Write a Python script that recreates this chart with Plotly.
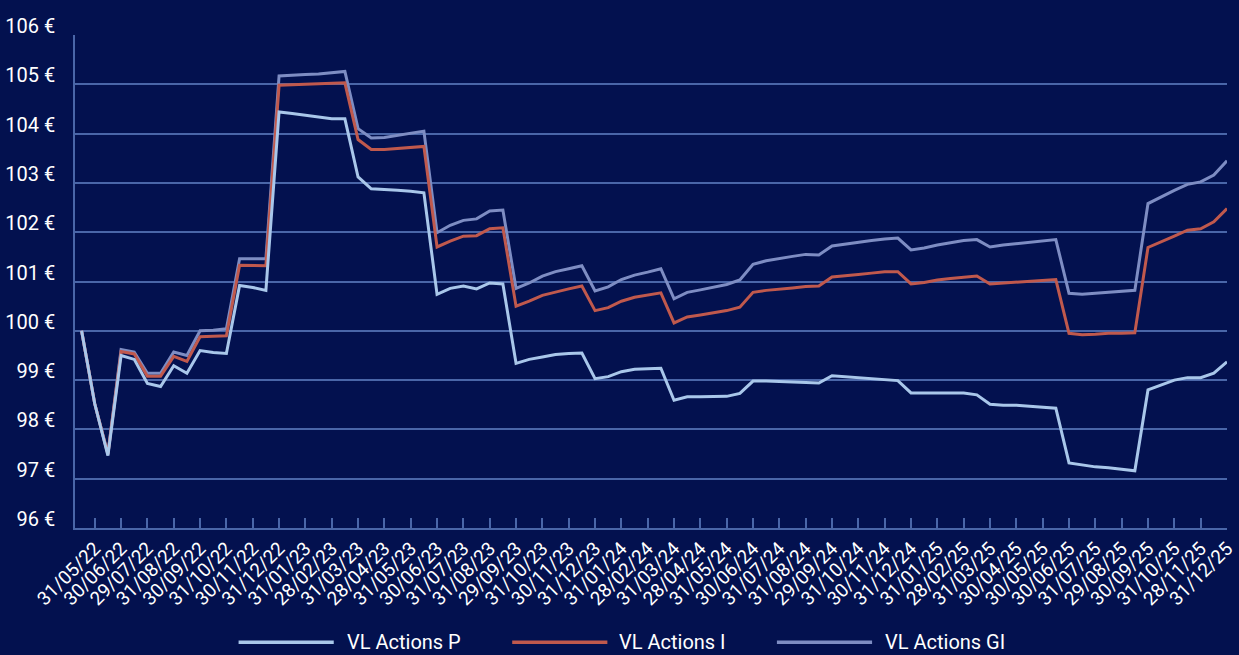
import plotly.graph_objects as go

# Month-end labels (shown on every second point)
month_labels = [
    "31/05/22", "30/06/22", "29/07/22", "31/08/22", "30/09/22", "31/10/22", "30/11/22", "31/12/22",
    "31/01/23", "28/02/23", "31/03/23", "28/04/23", "31/05/23", "30/06/23", "31/07/23", "31/08/23",
    "29/09/23", "31/10/23", "30/11/23", "31/12/23",
    "31/01/24", "28/02/24", "31/03/24", "28/04/24", "31/05/24", "30/06/24", "31/07/24", "31/08/24",
    "29/09/24", "31/10/24", "30/11/24", "31/12/24",
    "31/01/25", "28/02/25", "31/03/25", "30/04/25", "30/05/25", "30/06/25", "31/07/25", "29/08/25",
    "30/09/25", "31/10/25", "28/11/25", "31/12/25",
]

vl_actions_p = [
    100.00, 98.52, 97.47, 99.50, 99.42, 98.93, 98.87, 99.29, 99.14, 99.60,
    99.56, 99.54, 100.92, 100.88, 100.82, 104.44, 104.41, 104.37, 104.34, 104.30,
    104.30, 103.12, 102.88, 102.87, 102.85, 102.83, 102.80, 100.74, 100.86, 100.91,
    100.85, 100.97, 100.95, 99.34, 99.42, 99.47, 99.52, 99.54, 99.55, 99.03,
    99.07, 99.17, 99.22, 99.23, 99.24, 98.59, 98.66, 98.66, 98.67, 98.67,
    98.73, 98.98, 98.98, 98.97, 98.97, 98.96, 98.94, 99.09, 99.07, 99.05,
    99.03, 99.01, 98.99, 98.74, 98.74, 98.74, 98.74, 98.74, 98.70, 98.51,
    98.49, 98.49, 98.47, 98.45, 98.43, 97.32, 97.28, 97.24, 97.22, 97.19,
    97.16, 98.80, 98.90, 99.00, 99.05, 99.05, 99.14, 99.37,
]

vl_actions_i = [
    100.00, 98.52, 97.50, 99.58, 99.53, 99.08, 99.08, 99.48, 99.38, 99.88,
    99.89, 99.90, 101.33, 101.33, 101.32, 104.98, 104.99, 105.00, 105.01, 105.02,
    105.03, 103.88, 103.68, 103.68, 103.70, 103.72, 103.74, 101.70, 101.82, 101.92,
    101.93, 102.07, 102.09, 100.50, 100.60, 100.72, 100.79, 100.85, 100.91, 100.41,
    100.47, 100.60, 100.68, 100.72, 100.77, 100.16, 100.28, 100.32, 100.37, 100.41,
    100.48, 100.78, 100.82, 100.84, 100.87, 100.90, 100.91, 101.09, 101.11, 101.14,
    101.17, 101.20, 101.20, 100.95, 100.98, 101.03, 101.06, 101.09, 101.11, 100.95,
    100.97, 100.99, 101.00, 101.03, 101.04, 99.95, 99.92, 99.93, 99.95, 99.95,
    99.96, 101.69, 101.80, 101.92, 102.04, 102.07, 102.21, 102.48,
]

vl_actions_gi = [
    100.00, 98.52, 97.50, 99.62, 99.57, 99.14, 99.14, 99.57, 99.50, 100.00,
    100.01, 100.04, 101.46, 101.46, 101.46, 105.17, 105.19, 105.20, 105.21, 105.23,
    105.26, 104.10, 103.91, 103.92, 103.96, 104.00, 104.05, 101.99, 102.14, 102.24,
    102.27, 102.43, 102.45, 100.86, 100.97, 101.11, 101.20, 101.26, 101.32, 100.81,
    100.89, 101.04, 101.13, 101.19, 101.26, 100.65, 100.78, 100.83, 100.89, 100.94,
    101.03, 101.35, 101.42, 101.47, 101.51, 101.55, 101.54, 101.72, 101.76, 101.80,
    101.83, 101.86, 101.88, 101.64, 101.68, 101.74, 101.79, 101.83, 101.85, 101.70,
    101.74, 101.77, 101.80, 101.82, 101.85, 100.76, 100.74, 100.76, 100.78, 100.80,
    100.82, 102.58, 102.72, 102.85, 102.97, 103.02, 103.16, 103.45,
]

series_names = ["VL Actions P", "VL Actions I", "VL Actions GI"]
y_ticks = list(range(96, 107))

BG = "#03114f"
GRID = "#4a66a8"
COL_P = "#a9c7ea"
COL_I = "#c0594d"
COL_GI = "#7e8dc3"
FONT = "Roboto, sans-serif"

x = list(range(len(vl_actions_p)))
tick_pos = [2 * k + 1 for k in range(len(month_labels))]

fig = go.Figure()
for name, vals, col in [
    (series_names[2], vl_actions_gi, COL_GI),
    (series_names[1], vl_actions_i, COL_I),
    (series_names[0], vl_actions_p, COL_P),
]:
    fig.add_trace(go.Scatter(x=x, y=vals, mode="lines", name=name,
                             line=dict(color=col, width=3), showlegend=False))

# custom legend (long line samples like the original)
legend_items = [
    (series_names[0], COL_P, 240, 336, 347),
    (series_names[1], COL_I, 516, 612, 622),
    (series_names[2], COL_GI, 783, 879, 890),
]
L, R, T, B = 75, 1237, 34.7, 527.7
W, H = R - L, B - T
ly = (B - 642) / H
shapes = []
annotations = []
for name, col, x0, x1, xt in legend_items:
    shapes.append(dict(type="line", xref="paper", yref="paper",
                       x0=(x0 - L) / W, x1=(x1 - L) / W, y0=ly, y1=ly,
                       line=dict(color=col, width=3.5)))
    annotations.append(dict(xref="paper", yref="paper", x=(xt - L) / W, y=ly,
                            text=name, showarrow=False, xanchor="left", yanchor="middle",
                            font=dict(color="white", size=20, family=FONT)))

fig.update_layout(
    width=1239, height=655,
    paper_bgcolor=BG, plot_bgcolor=BG,
    margin=dict(l=L, r=1239 - R, t=T, b=655 - B),
    font=dict(family=FONT, color="white", size=19),
    shapes=shapes, annotations=annotations,
    showlegend=False,
)
fig.update_xaxes(
    range=[-0.5, len(x) - 1 + 0.001], tickmode="array", tickvals=tick_pos, ticktext=month_labels,
    tickangle=-45, showgrid=False, zeroline=False, ticklabeloverflow="allow",
    showline=True, linecolor=GRID, linewidth=2,
    ticks="inside", ticklen=10, tickcolor=GRID, tickwidth=1.5,
    tickfont=dict(size=19, color="white", family=FONT),
)
fig.update_yaxes(
    range=[96, 106], tickmode="array", tickvals=y_ticks,
    ticktext=[f"{v} €" for v in y_ticks],
    showgrid=True, gridcolor=GRID, gridwidth=1.5, zeroline=False,
    showline=True, linecolor=GRID, linewidth=1.5,
    ticks="", ticklabelstandoff=14, ticklabelshift=-9,
    ticklabeloverflow="allow",
    tickfont=dict(size=20, color="white", family=FONT),
)

fig.write_html(
    "out.html",
    config={"displayModeBar": False},
    post_script="document.body.style.margin='0';document.body.style.padding='0';"
                "document.body.style.background='" + BG + "';",
)
